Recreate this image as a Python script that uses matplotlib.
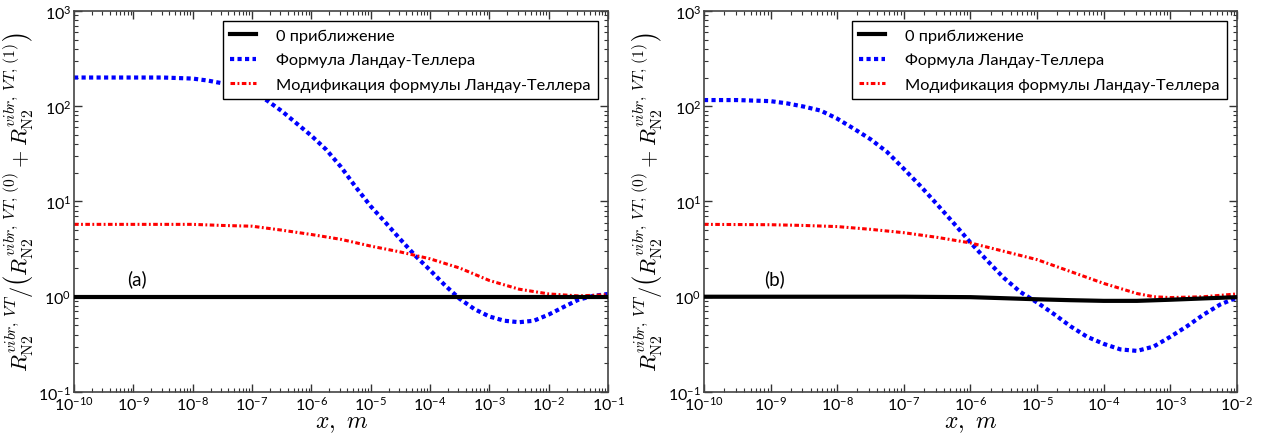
import numpy as np
import matplotlib
matplotlib.use("Agg")
import matplotlib.pyplot as plt
from matplotlib.ticker import LogLocator, NullFormatter

plt.rcParams['font.family'] = ['Lato', 'DejaVu Sans']
plt.rcParams['mathtext.fontset'] = 'cm'

# panel (a): decimal exponent of x (m) and the rate ratios
lgx_a_lt = [-10, -9, -8.5, -8, -7.75, -7.5, -7.25, -7, -6.75, -6.5, -6.25, -6,
            -5.75, -5.5, -5.25, -5, -4.75, -4.5, -4.25, -4, -3.75, -3.5, -3.25,
            -3, -2.75, -2.5, -2.25, -2, -1.75, -1.5, -1.25, -1]
ya_lt = [200, 200, 200, 195, 186, 174, 158, 138, 115, 89, 66, 49,
         35, 23, 14.1, 8.9, 6.0, 4.0, 2.7, 1.9, 1.32, 0.95, 0.74,
         0.62, 0.56, 0.54, 0.56, 0.65, 0.78, 0.93, 1.02, 1.07]
lgx_a_mod = [-10, -8, -7.5, -7, -6.5, -6, -5.5, -5, -4.5, -4, -3.5, -3,
             -2.5, -2, -1.5, -1]
ya_mod = [5.75, 5.75, 5.6, 5.5, 5.0, 4.5, 4.0, 3.4, 2.95, 2.5, 2.0, 1.48,
          1.2, 1.07, 1.02, 1.05]
lgx_a_zero = [-10, -1]
ya_zero = [1.0, 1.0]

# panel (b)
lgx_b_lt = [-10, -9.5, -9, -8.75, -8.5, -8.25, -8, -7.75, -7.5, -7.25, -7,
            -6.75, -6.5, -6.25, -6, -5.75, -5.5, -5.25, -5, -4.75, -4.5,
            -4.25, -4, -3.75, -3.5, -3.25, -3, -2.75, -2.5, -2.25, -2]
yb_lt = [116, 116, 113, 107, 99, 90, 74, 58, 45, 33, 22,
         14.5, 9.3, 5.9, 3.7, 2.4, 1.58, 1.12, 0.87, 0.66, 0.49,
         0.38, 0.32, 0.28, 0.27, 0.30, 0.38, 0.49, 0.65, 0.83, 0.98]
lgx_b_mod = [-10, -9, -8.5, -8, -7.5, -7, -6.5, -6, -5.5, -5, -4.5, -4,
             -3.5, -3.25, -3, -2.5, -2]
yb_mod = [5.75, 5.7, 5.6, 5.45, 5.1, 4.7, 4.2, 3.67, 3.0, 2.45, 1.84, 1.38,
          1.08, 1.0, 0.98, 1.0, 1.07]
lgx_b_zero = [-10, -7, -6.5, -6, -5.5, -5, -4.5, -4, -3.5, -3, -2.5, -2]
yb_zero = [1.0, 1.0, 0.995, 0.99, 0.965, 0.94, 0.92, 0.905, 0.905, 0.93, 0.96, 0.99]

labels = ['0 приближение', 'Формула Ландау-Теллера',
          'Модификация формулы Ландау-Теллера']
ylab = (r'$R_{\mathrm{N2}}^{vibr,\,VT}/\left(R_{\mathrm{N2}}^{vibr,\,VT,\,(0)}'
        r' + R_{\mathrm{N2}}^{vibr,\,VT,\,(1)}\right)$')

fig = plt.figure(figsize=(12.7, 4.39), dpi=100)
ax1 = fig.add_axes([0.0583, 0.1048, 0.4205, 0.868])
ax2 = fig.add_axes([0.5543, 0.1048, 0.4197, 0.868])

panels = [
    (ax1, lgx_a_zero, ya_zero, lgx_a_lt, ya_lt, lgx_a_mod, ya_mod, 1e-1, '(a)'),
    (ax2, lgx_b_zero, yb_zero, lgx_b_lt, yb_lt, lgx_b_mod, yb_mod, 1e-2, '(b)'),
]

for ax, xz, yz, xl, yl, xm, ym, xmax, tag in panels:
    ax.plot(10.0 ** np.array(xz), yz, color='black', lw=3,
            label=labels[0], zorder=3)
    ax.plot(10.0 ** np.array(xl), yl, color='blue', lw=3, ls=(0, (1, 0.8)),
            label=labels[1], zorder=2)
    ax.plot(10.0 ** np.array(xm), ym, color='red', lw=2.2,
            ls=(0, (1.5, 0.8, 0.6, 0.8)), label=labels[2], zorder=2)
    ax.set_xscale('log')
    ax.set_yscale('log')
    ax.set_xlim(1e-10, xmax)
    ax.set_ylim(1e-1, 1e3)
    ax.xaxis.set_major_locator(LogLocator(base=10, numticks=20))
    ax.xaxis.set_minor_locator(LogLocator(base=10, subs=np.arange(2, 10), numticks=20))
    ax.xaxis.set_minor_formatter(NullFormatter())
    ax.tick_params(which='both', direction='in', top=True, right=True,
                   labelsize=11.5, pad=2, color='#333333')
    ax.tick_params(which='major', length=6, width=1)
    ax.tick_params(which='minor', length=3, width=0.8)
    for s in ax.spines.values():
        s.set_color('#444444')
        s.set_linewidth(1.2)
    ax.set_xlabel(r'$x,\ m$', fontsize=17, labelpad=0, math_fontfamily='cm')
    ax.set_ylabel(ylab, fontsize=16, labelpad=2, math_fontfamily='cm')
    ax.text(1.15e-9, 1.55, tag, fontsize=13.5, ha='center', va='center')
    leg = ax.legend(loc='upper right', fontsize=11.8,
                    fancybox=False, framealpha=1,
                    edgecolor='black', borderpad=0.45, labelspacing=0.62,
                    handlelength=1.6, handletextpad=1.2, borderaxespad=0,
                    bbox_to_anchor=(0.981, 0.974))
    leg.get_frame().set_linewidth(1.0)

fig.savefig('out.png', dpi=100)
